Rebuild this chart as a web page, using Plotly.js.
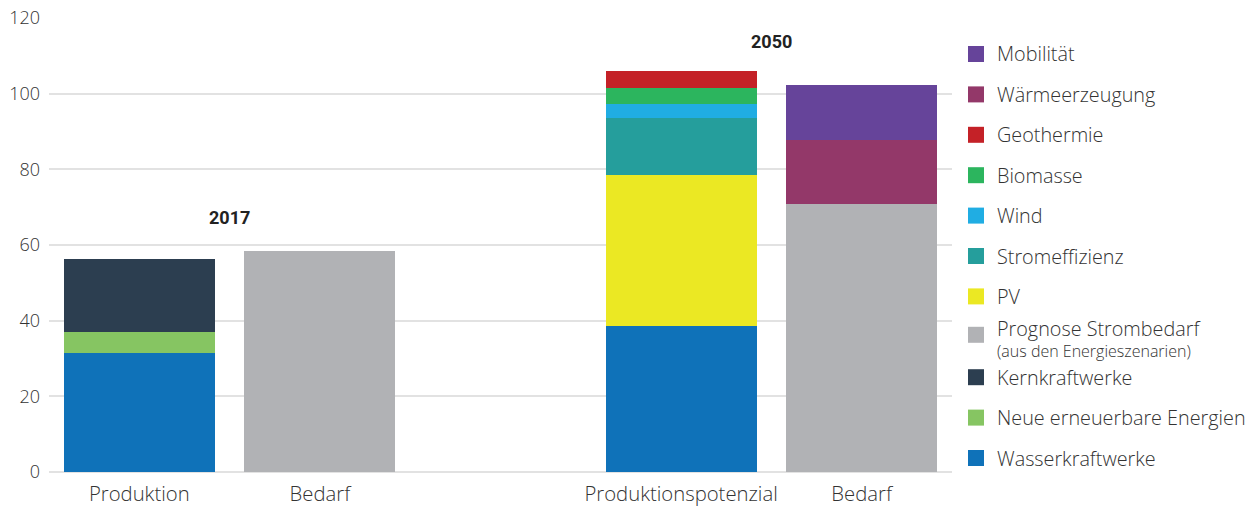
<!DOCTYPE html>
<html>
<head>
<meta charset="utf-8">
<script src="https://cdn.plot.ly/plotly-3.0.1.min.js"></script>
<style>html,body{margin:0;padding:0;background:#fff;}#chart{width:1260px;height:506px;}</style>
</head>
<body>
<div id="chart"></div>
<script>
// ---- data ----
const categories = ['Produktion', 'Bedarf', 'Produktionspotenzial', 'Bedarf'];
const slots = [0, 1, 3, 4];
const yTicks = [0, 20, 40, 60, 80, 100, 120];
const yearLabels = ['2017', '2050'];
const yearTops = [67.2, 113.8];

const wasserkraftwerke = [31.5, null, 38.6, null];
const neueErneuerbare  = [5.5, null, null, null];
const kernkraftwerke   = [19.3, null, null, null];
const prognoseBedarf   = [null, 58.5, null, 70.8];
const pv               = [null, null, 39.8, null];
const stromeffizienz   = [null, null, 15.2, null];
const wind             = [null, null, 3.8, null];
const biomasse         = [null, null, 4.0, null];
const geothermie       = [null, null, 4.5, null];
const waermeerzeugung  = [null, null, null, 17.0];
const mobilitaet       = [null, null, null, 14.6];

const seriesNames = ['Wasserkraftwerke', 'Neue erneuerbare Energien', 'Kernkraftwerke',
  'Prognose Strombedarf', 'PV', 'Stromeffizienz', 'Wind', 'Biomasse', 'Geothermie',
  'Wärmeerzeugung', 'Mobilität'];
const seriesValues = [wasserkraftwerke, neueErneuerbare, kernkraftwerke, prognoseBedarf, pv,
  stromeffizienz, wind, biomasse, geothermie, waermeerzeugung, mobilitaet];
const seriesColors = ['#0F72B9', '#86C562', '#2C3E50', '#B1B2B5', '#EBE823', '#259E9C',
  '#20ADE3', '#2CB55E', '#C42127', '#933869', '#66449A'];

// ---- layout geometry ----
const W = 1260, H = 506;
const M = {l: 49, r: 308, t: 18, b: 34};
const FONT = '"Open Sans", Roboto, sans-serif';
const TXT = '#333333';
function pxToPaperX(px) { return (px - M.l) / (W - M.l - M.r); }
function pyToPaperY(py) { return (H - M.b - py) / (H - M.t - M.b); }

const traces = seriesNames.map((name, i) => ({
  type: 'bar',
  name: name,
  x: slots,
  y: seriesValues[i],
  width: 0.836,
  marker: {color: seriesColors[i], line: {width: 0}},
  showlegend: false,
  hoverinfo: 'name+y'
}));

const annotations = [];
const shapes = [];
yearLabels.forEach((t, i) => {
  annotations.push({
    x: i === 0 ? 0.5 : 3.5, y: yearTops[i], xref: 'x', yref: 'y',
    text: '<b>' + t + '</b>', showarrow: false,
    font: {family: 'Roboto, sans-serif', size: 18, color: '#222222'},
    xanchor: 'center', yanchor: 'middle'
  });
});

// custom legend (reversed order, matching stack order)
const legendTop = 54, legendStep = 40.4;
const order = seriesNames.map((_, i) => i).reverse();
order.forEach((idx, k) => {
  const cy = legendTop + k * legendStep;
  const isPrognose = seriesNames[idx] === 'Prognose Strombedarf';
  const sq = isPrognose ? cy - 2 : cy;
  shapes.push({
    type: 'rect', xref: 'paper', yref: 'paper',
    x0: pxToPaperX(968), x1: pxToPaperX(984),
    y0: pyToPaperY(sq + 8), y1: pyToPaperY(sq - 8),
    fillcolor: seriesColors[idx], line: {width: 0}
  });
  if (isPrognose) {
    annotations.push({
      x: pxToPaperX(995), y: pyToPaperY(cy - 8), xref: 'paper', yref: 'paper',
      text: seriesNames[idx], showarrow: false, xanchor: 'left', yanchor: 'middle',
      font: {family: FONT, size: 19.8, color: TXT, weight: 300}
    });
    annotations.push({
      x: pxToPaperX(995), y: pyToPaperY(cy + 14), xref: 'paper', yref: 'paper',
      text: '(aus den Energieszenarien)', showarrow: false, xanchor: 'left', yanchor: 'middle',
      font: {family: FONT, size: 16, color: TXT, weight: 300}
    });
  } else {
    annotations.push({
      x: pxToPaperX(995), y: pyToPaperY(cy), xref: 'paper', yref: 'paper',
      text: seriesNames[idx], showarrow: false, xanchor: 'left', yanchor: 'middle',
      font: {family: FONT, size: 19.8, color: TXT, weight: 300}
    });
  }
});

const layout = {
  width: W, height: H,
  margin: M,
  paper_bgcolor: '#ffffff', plot_bgcolor: '#ffffff',
  barmode: 'stack',
  bargap: 0,
  showlegend: false,
  font: {family: FONT, size: 18, color: TXT},
  xaxis: {
    range: [-0.5, 4.5],
    tickmode: 'array', tickvals: slots, ticktext: categories,
    showgrid: false, zeroline: false, showline: false, ticks: '',
    tickfont: {family: FONT, size: 20.3, color: TXT, weight: 300},
    ticklabelstandoff: 8,
    fixedrange: true
  },
  yaxis: {
    range: [0, 120],
    tickmode: 'array', tickvals: yTicks,
    showgrid: true, gridcolor: '#E2E2E2', gridwidth: 2,
    zeroline: true, zerolinecolor: '#E2E2E2', zerolinewidth: 2,
    showline: false, ticks: '',
    tickfont: {family: FONT, size: 18, color: TXT, weight: 300},
    ticklabelstandoff: 8,
    fixedrange: true
  },
  annotations: annotations,
  shapes: shapes
};

Plotly.newPlot('chart', traces, layout, {displayModeBar: false, staticPlot: true});
</script>
</body>
</html>
